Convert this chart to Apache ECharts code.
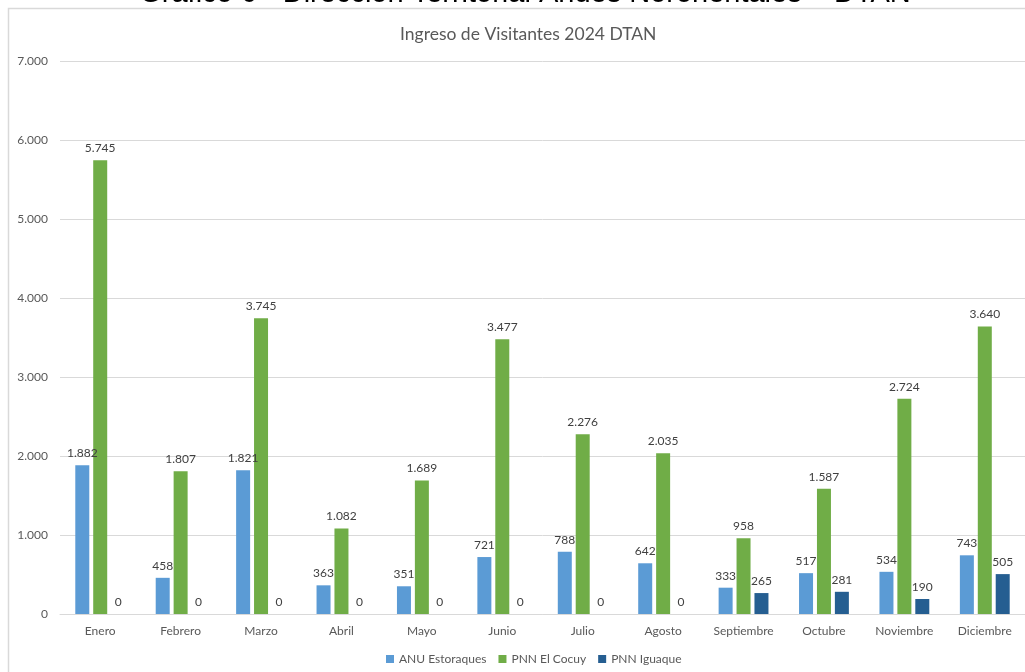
<!DOCTYPE html>
<html><head><meta charset="utf-8">
<script src="https://cdn.jsdelivr.net/npm/echarts@6/dist/echarts.min.js"></script>
<style>html,body{margin:0;padding:0;background:#fff}#c{width:1025px;height:672px}</style>
</head><body><div id="c"></div>
<script>
const months = ["Enero","Febrero","Marzo","Abril","Mayo","Junio","Julio","Agosto","Septiembre","Octubre","Noviembre","Diciembre"];
const anuEstoraques = [1882,458,1821,363,351,721,788,642,333,517,534,743];
const pnnElCocuy = [5745,1807,3745,1082,1689,3477,2276,2035,958,1587,2724,3640];
const pnnIguaque = [0,0,0,0,0,0,0,0,265,281,190,505];
const seriesNames = ["ANU Estoraques","PNN El Cocuy","PNN Iguaque"];
const colors = ["#5B9BD5","#70AD47","#255E91"];

const fmt = v => String(v).replace(/\B(?=(\d{3})+(?!\d))/g, ".");
const FONT = "Lato";
const chart = echarts.init(document.getElementById('c'));
const mk = (name, data, color) => ({
  name, type: 'bar', data, barWidth: 14, barGap: '28%',
  itemStyle: { color },
  label: { show: true, position: 'top', distance: 6, color: '#404040', fontSize: 12, fontFamily: FONT, formatter: p => fmt(p.value) }
});
chart.setOption({
  animation: false,
  graphic: [
    { type: 'rect', shape: { x: 8.5, y: 8.5, width: 1030, height: 700 }, style: { fill: 'none', stroke: '#d9d9d9', lineWidth: 1.5 } },
    { type: 'text', x: 525, y: 8, style: { text: 'Gráfico 6 - Dirección Territorial Andes Nororientales – DTAN', font: '29px "Liberation Sans"', fill: '#000', textAlign: 'center', textVerticalAlign: 'bottom' } }
  ],
  title: { text: 'Ingreso de Visitantes 2024 DTAN', left: 395, top: 20, textStyle: { fontFamily: FONT, fontSize: 17.5, fontWeight: 'normal', color: '#595959' } },
  legend: { bottom: 2, left: 381, itemWidth: 8, itemHeight: 8, itemGap: 12, icon: 'rect',
    textStyle: { fontFamily: FONT, fontSize: 12, color: '#595959' }, data: seriesNames },
  grid: { left: 60, right: 0, top: 61, bottom: 58, containLabel: false },
  xAxis: { type: 'category', data: months, axisTick: { show: false },
    axisLine: { lineStyle: { color: '#d9d9d9' } },
    axisLabel: { fontFamily: FONT, fontSize: 12, color: '#595959', margin: 11 } },
  yAxis: { type: 'value', min: 0, max: 7000, interval: 1000,
    axisLabel: { fontFamily: FONT, fontSize: 12, color: '#595959', formatter: v => fmt(v), margin: 12 },
    splitLine: { lineStyle: { color: '#d9d9d9' } }, axisLine: { show: false } },
  series: [ mk(seriesNames[0], anuEstoraques, colors[0]), mk(seriesNames[1], pnnElCocuy, colors[1]), mk(seriesNames[2], pnnIguaque, colors[2]) ]
});
</script></body></html>
